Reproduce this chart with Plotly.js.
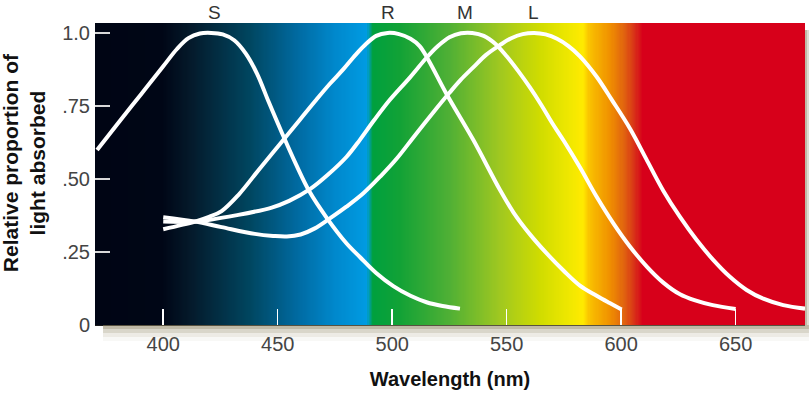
<!DOCTYPE html>
<html>
<head>
<meta charset="utf-8">
<script src="https://cdn.plot.ly/plotly-3.0.1.min.js"></script>
<style>html,body{margin:0;padding:0;background:#fff;}#chart{width:809px;height:397px;}</style>
</head>
<body>
<div id="chart"></div>
<script>
// Absorption curves (wavelength nm, relative proportion absorbed)
var sX = [371.1, 380, 390, 400, 406, 411, 416, 421, 426, 431, 436, 441, 446, 452, 458, 464, 471.4, 480, 486, 493, 500.5, 508, 515, 522, 529.6];
var sY = [0.599, 0.688, 0.787, 0.886, 0.945, 0.982, 0.998, 1.0, 0.995, 0.975, 0.93, 0.86, 0.765, 0.655, 0.55, 0.455, 0.367, 0.28, 0.232, 0.178, 0.133, 0.1, 0.078, 0.065, 0.056];

var rX = [400, 413.9, 420, 425.5, 432.8, 442.3, 451, 459.7, 466.3, 472.8, 478.6, 484, 488, 493, 498, 503, 508, 512, 516, 523.8, 535.4, 547.1, 553, 560, 567.5, 575, 582, 589.3, 595, 600.2];
var rY = [0.328, 0.354, 0.37, 0.39, 0.445, 0.537, 0.62, 0.703, 0.766, 0.826, 0.875, 0.925, 0.958, 0.99, 1.0, 0.996, 0.98, 0.955, 0.905, 0.79, 0.634, 0.462, 0.385, 0.312, 0.245, 0.185, 0.135, 0.1, 0.075, 0.053];

var mX = [400, 413.9, 432.8, 447.4, 455, 464.1, 472, 480.1, 485.9, 492, 499, 507.8, 515, 520, 525, 530, 535, 540, 545, 550, 555, 560, 565, 570, 575, 582, 589.3, 596.6, 603.9, 611.2, 618.4, 625.7, 632, 640, 650];
var mY = [0.354, 0.354, 0.377, 0.402, 0.425, 0.465, 0.515, 0.576, 0.634, 0.7, 0.771, 0.848, 0.915, 0.955, 0.985, 0.999, 1.0, 0.99, 0.963, 0.92, 0.87, 0.815, 0.755, 0.69, 0.63, 0.54, 0.439, 0.348, 0.268, 0.2, 0.145, 0.105, 0.085, 0.068, 0.055];

var lX = [400, 413.9, 425.5, 440, 448, 454, 460, 466, 472.8, 480, 487.4, 495, 502, 510, 519.4, 525, 530, 535.4, 541, 547, 552, 557, 562, 567, 572, 577, 582, 589.3, 596, 603.9, 611, 618.4, 625.7, 633, 640.2, 647.5, 654.8, 662.1, 670.8, 680.3];
var lY = [0.369, 0.354, 0.335, 0.312, 0.305, 0.303, 0.31, 0.33, 0.365, 0.405, 0.451, 0.51, 0.57, 0.65, 0.742, 0.795, 0.84, 0.882, 0.925, 0.958, 0.982, 0.996, 1.0, 0.995, 0.98, 0.955, 0.92, 0.85, 0.77, 0.672, 0.568, 0.46, 0.37, 0.291, 0.223, 0.165, 0.12, 0.09, 0.068, 0.056];

// Curve labels
var labelText = ['S', 'R', 'M', 'L'];
var labelX = [422.2, 498.0, 531.8, 561.9];

// Axis ticks
var xTicks = [400, 450, 500, 550, 600, 650];
var yTicks = [0, 0.25, 0.5, 0.75, 1.0];
var yTickText = ['0', '.25', '.50', '.75', '1.0'];

// Visible spectrum background (wavelength nm -> colour)
var specNm = [370, 399.5, 411.7, 437.9, 459.7, 475.0, 489.0, 491.6, 503.4, 525.2, 547.1, 564.6, 577.7, 583.3, 586.4, 595.1, 601.7, 606.0, 609.5, 680.3];
var specCol = ['#000514', '#000616', '#04192a', '#004660', '#006ca4', '#0088cc', '#009be2', '#00a03e', '#12a236', '#50b035', '#a0c820', '#d0dc00', '#f0e800', '#ffea00', '#f9c000', '#f09000', '#e06010', '#d83018', '#d7001a', '#d7001a'];

var xMin = 370.2, xMax = 680.3, yMax = 1.034;

var bgX = [];
for (var w = 370; w <= 681; w += 0.5) bgX.push(w);
var bgZ = [bgX.slice()];
var cs = specNm.map(function (n, i) { return [(n - 370) / (680.3 - 370), specCol[i]]; });
cs[cs.length - 1][0] = 1;

var curveLine = {color: '#ffffff', width: 4, shape: 'spline', smoothing: 1};
var traces = [
  {type: 'heatmap', x: bgX, y: [0, 1.06], z: bgZ, colorscale: cs, zmin: 370, zmax: 680.3,
   showscale: false, hoverinfo: 'skip'},
  {type: 'scatter', mode: 'lines', x: sX, y: sY, line: curveLine, name: 'S', hoverinfo: 'skip'},
  {type: 'scatter', mode: 'lines', x: rX, y: rY, line: curveLine, name: 'R', hoverinfo: 'skip'},
  {type: 'scatter', mode: 'lines', x: mX, y: mY, line: curveLine, name: 'M', hoverinfo: 'skip'},
  {type: 'scatter', mode: 'lines', x: lX, y: lY, line: curveLine, name: 'L', hoverinfo: 'skip'}
];

var shadow = 'rgba(140,130,95,';
var shapes = [
  {type: 'rect', xref: 'paper', yref: 'paper', x0: 0.0113, x1: 1.0056, y0: 0, y1: -0.0132, fillcolor: shadow + '0.55)', line: {width: 0}},
  {type: 'rect', xref: 'paper', yref: 'paper', x0: 0.0113, x1: 1.0056, y0: -0.0132, y1: -0.0265, fillcolor: shadow + '0.33)', line: {width: 0}},
  {type: 'rect', xref: 'paper', yref: 'paper', x0: 0.0113, x1: 1.0056, y0: -0.0265, y1: -0.0397, fillcolor: shadow + '0.16)', line: {width: 0}},
  {type: 'rect', xref: 'paper', yref: 'paper', x0: 0.0113, x1: 1.0056, y0: -0.0397, y1: -0.053, fillcolor: shadow + '0.06)', line: {width: 0}},
  {type: 'rect', xref: 'paper', yref: 'paper', x0: 1.0, x1: 1.0028, y0: 0.977, y1: 0, fillcolor: shadow + '0.55)', line: {width: 0}},
  {type: 'rect', xref: 'paper', yref: 'paper', x0: 1.0028, x1: 1.0056, y0: 0.977, y1: 0, fillcolor: shadow + '0.28)', line: {width: 0}}
];

var annotations = labelText.map(function (t, i) {
  return {text: t, x: labelX[i], xref: 'x', y: 1.036, yref: 'paper', showarrow: false,
          xanchor: 'center', yanchor: 'middle', font: {size: 19, color: '#333333'}};
});
annotations.push({
  text: 'Relative proportion of<br>light absorbed', textangle: -90,
  xref: 'paper', x: -0.1, xanchor: 'center', yref: 'paper', y: 0.536, yanchor: 'middle',
  showarrow: false, font: {size: 21, color: '#111111', family: 'Liberation Sans, Arial, sans-serif', weight: 'bold'}
});

var layout = {
  width: 809, height: 397,
  margin: {l: 95, r: 4, t: 23, b: 72, pad: 0},
  paper_bgcolor: '#ffffff', plot_bgcolor: '#000514',
  font: {family: 'Liberation Sans, Arial, sans-serif', color: '#444444'},
  showlegend: false,
  xaxis: {
    range: [xMin, xMax], tickvals: xTicks, ticks: 'inside', ticklen: 16, tickwidth: 1.5, tickcolor: '#ffffff',
    showgrid: false, zeroline: false, showline: true, linecolor: '#1a1a1a', linewidth: 1,
    tickfont: {size: 20, color: '#444444'}, ticklabelstandoff: 1,
    title: {text: 'Wavelength (nm)', font: {size: 20, color: '#111111', family: 'Liberation Sans, Arial, sans-serif', weight: 'bold'}, standoff: 17},
    fixedrange: true
  },
  yaxis: {
    range: [0, yMax], tickvals: yTicks, ticktext: yTickText, ticks: 'inside', ticklen: 15, tickwidth: 2, tickcolor: '#d8d8d8',
    showgrid: false, zeroline: false, showline: false,
    tickfont: {size: 20, color: '#444444'}, ticklabelstandoff: 4,
    fixedrange: true
  },
  shapes: shapes,
  annotations: annotations
};

Plotly.newPlot('chart', traces, layout, {displayModeBar: false, staticPlot: true});
</script>
</body>
</html>
